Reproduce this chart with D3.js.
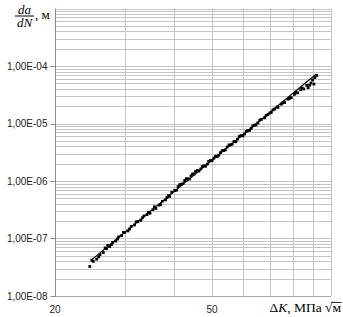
<!DOCTYPE html>
<head>
  <meta charset="utf-8">
  <script src="https://cdn.jsdelivr.net/npm/d3@7"></script>
  <style>
    body { margin: 0; background: #fff; }
    svg { display: block; }
    .tick-label { font-family: 'Liberation Sans', Arial, sans-serif; font-size: 10px; fill: #222; }
    .title { font-family: 'Liberation Serif', 'Times New Roman', serif; fill: #000; }
  </style>
</head>
<body>
<div id=chart></div>
<script>
// stress intensity range, MPa*sqrt(m)
const delta_k = [24.5, 25.0, 25.5, 26.0, 26.5, 27.0, 27.2, 27.5, 28.0, 28.5,
  29.0, 29.5, 30.0, 30.6, 31.2, 31.8, 32.4, 33.0, 33.3, 33.6,
  34.2, 34.8, 35.4, 36.0, 36.7, 37.4, 38.1, 38.8, 39.0, 39.5,
  40.2, 41.0, 41.8, 42.6, 43.4, 44.2, 44.6, 45.0, 45.9, 46.8,
  47.7, 48.6, 49.5, 50.5, 51.5, 52.5, 53.5, 54.6, 55.7, 56.8,
  57.4, 58.0, 59.2, 60.4, 61.6, 62.8, 63.4, 64.0, 65.3, 66.6,
  67.9, 69.2, 70.6, 71.3, 72.0, 73.4, 74.8, 76.3, 77.8, 79.3,
  80.8, 81.5, 82.3, 83.8, 85.3, 86.8, 87.5, 88.3, 89.8, 90.5,
  91.0, 92.0,
  24.8, 25.8, 26.8, 27.8, 28.8, 29.8, 30.9, 32.1, 34.5, 35.7,
  37.0, 38.4, 40.6, 41.4, 42.2, 43.0, 43.8, 45.4, 46.3, 47.2,
  48.1, 49.0, 50.0, 51.0, 52.0, 53.0, 54.0, 55.2, 56.2, 58.6,
  59.8, 61.0, 62.2, 64.6, 66.0, 68.5, 70.0, 73.0, 75.5, 78.5,
  84.5, 89.0]
// crack growth rate, m/cycle
const da_dn = [3.26e-8, 4.00e-8, 4.38e-8, 5.24e-8, 5.70e-8, 6.65e-8, 7.60e-8, 7.21e-8, 8.56e-8, 9.03e-8,
  1.069e-7, 1.124e-7, 1.266e-7, 1.353e-7, 1.620e-7, 1.722e-7, 1.960e-7, 2.077e-7, 2.29e-7, 2.465e-7,
  2.604e-7, 2.747e-7, 3.168e-7, 3.327e-7, 3.80e-7, 4.43e-7, 4.70e-7, 5.58e-7, 5.37e-7, 6.33e-7,
  6.83e-7, 8.00e-7, 8.73e-7, 1.017e-6, 1.080e-6, 1.225e-6, 1.32e-6, 1.326e-6, 1.519e-6, 1.619e-6,
  1.846e-6, 1.961e-6, 2.279e-6, 2.495e-6, 2.665e-6, 3.113e-6, 3.387e-6, 3.889e-6, 4.258e-6, 4.863e-6,
  4.82e-6, 5.354e-6, 6.154e-6, 6.58e-6, 7.54e-6, 8.22e-6, 9.09e-6, 9.37e-6, 1.026e-5, 1.175e-5,
  1.252e-5, 1.426e-5, 1.562e-5, 1.73e-5, 1.786e-5, 1.904e-5, 2.169e-5, 2.318e-5, 2.651e-5, 2.822e-5,
  3.21e-5, 3.53e-5, 3.40e-5, 3.86e-5, 3.98e-5, 4.60e-5, 4.20e-5, 4.63e-5, 5.72e-5, 4.85e-5,
  6.30e-5, 6.87e-5,
  4.20e-8, 4.79e-8, 6.83e-8, 7.84e-8, 9.81e-8, 1.276e-7, 1.465e-7, 1.947e-7, 2.866e-7, 3.563e-7,
  3.889e-7, 5.14e-7, 6.90e-7, 8.65e-7, 9.00e-7, 1.098e-6, 1.087e-6, 1.462e-6, 1.490e-6, 1.779e-6,
  1.806e-6, 2.202e-6, 2.253e-6, 2.701e-6, 2.813e-6, 3.361e-6, 3.487e-6, 4.23e-6, 4.37e-6, 5.94e-6,
  6.08e-6, 7.29e-6, 7.61e-6, 9.43e-6, 1.141e-5, 1.378e-5, 1.522e-5, 1.932e-5, 2.285e-5, 2.726e-5,
  4.14e-5, 5.07e-5]
// fitted Paris line end points
const fit_k = [24.7, 91.6]
const fit_da_dn = [4.2e-8, 7.2e-5]

const x_tick_values = [20, 50]
const y_tick_values = [1e-8, 1e-7, 1e-6, 1e-5, 1e-4]
const y_tick_labels = ['1,00E-08', '1,00E-07', '1,00E-06', '1,00E-05', '1,00E-04']

const width = 343, height = 317
const margin = { top: 8.5, right: 12, bottom: 21, left: 55 }

const x = d3.scaleLog().domain([20, 100]).range([margin.left, width - margin.right])
const y = d3.scaleLog().domain([1e-8, 1e-3]).range([height - margin.bottom, margin.top])
const crisp = v => Math.round(v) + 0.5

const svg = d3.select('#chart').append('svg')
  .attr('width', width)
  .attr('height', height)
  .attr('viewBox', [0, 0, width, height])

svg.append('rect').attr('width', width).attr('height', height).attr('fill', '#fff')

// grid
svg.append('g').selectAll('line').data(y.ticks()).join('line')
  .attr('x1', margin.left).attr('x2', width - margin.right)
  .attr('y1', d => crisp(y(d))).attr('y2', d => crisp(y(d)))
  .attr('stroke', '#c4c4c4')
svg.append('g').selectAll('line').data(x.ticks()).join('line')
  .attr('y1', margin.top).attr('y2', height - margin.bottom)
  .attr('x1', d => crisp(x(d))).attr('x2', d => crisp(x(d)))
  .attr('stroke', '#c4c4c4')

// axes
const y0 = crisp(y(1e-8)), x0 = crisp(x(20))
svg.append('line').attr('x1', x0).attr('x2', x0).attr('y1', margin.top).attr('y2', y0).attr('stroke', '#8c8c8c')
svg.append('line').attr('x1', x0).attr('x2', width - margin.right).attr('y1', y0).attr('y2', y0).attr('stroke', '#a8a8a8')

svg.append('g').selectAll('line').data(y_tick_values).join('line')
  .attr('x1', x0 - 5).attr('x2', x0)
  .attr('y1', d => crisp(y(d))).attr('y2', d => crisp(y(d)))
  .attr('stroke', '#8c8c8c')

svg.append('g').selectAll('text').data(y_tick_values).join('text')
  .attr('class', 'tick-label')
  .attr('x', x0 - 8)
  .attr('y', d => y(d))
  .attr('dy', '0.35em')
  .attr('text-anchor', 'end')
  .text((d, i) => y_tick_labels[i])

svg.append('g').selectAll('text').data(x_tick_values).join('text')
  .attr('class', 'tick-label')
  .attr('x', d => x(d))
  .attr('y', height - 4)
  .attr('text-anchor', 'middle')
  .text(d => d)

// fit line
svg.append('path')
  .datum(d3.zip(fit_k, fit_da_dn))
  .attr('d', d3.line().x(d => x(d[0])).y(d => y(d[1])))
  .attr('fill', 'none')
  .attr('stroke', '#000')
  .attr('stroke-width', 1.1)

// measured points
svg.append('g').selectAll('rect').data(d3.zip(delta_k, da_dn)).join('rect')
  .attr('x', d => x(d[0]) - 1.4)
  .attr('y', d => y(d[1]) - 1.4)
  .attr('width', 2.8)
  .attr('height', 2.8)
  .attr('fill', '#000')

// y title: da/dN, м
const y_title = svg.append('g').attr('class', 'title').attr('font-size', 13)
y_title.append('text').attr('x', 24.5).attr('y', 13.5).attr('text-anchor', 'middle').attr('font-style', 'italic').text('da')
y_title.append('line').attr('x1', 15).attr('x2', 34).attr('y1', 16).attr('y2', 16).attr('stroke', '#000')
y_title.append('text').attr('x', 24.5).attr('y', 27).attr('text-anchor', 'middle').attr('font-style', 'italic').text('dN')
y_title.append('text').attr('x', 35).attr('y', 18.5).text(', м')

// x title: ΔK, МПа √м
const x_title = svg.append('g').attr('class', 'title').attr('font-size', 13.5)
const m_text = x_title.append('text').attr('x', width - 2).attr('y', height - 5).attr('text-anchor', 'end').text('м')
const m_box = m_text.node().getBBox()
const rest = x_title.append('text').attr('x', m_box.x).attr('y', height - 5).attr('text-anchor', 'end')
rest.append('tspan').text('Δ')
rest.append('tspan').attr('font-style', 'italic').text('K')
rest.append('tspan').text(', МПа √')
x_title.append('line')
  .attr('x1', m_box.x - 1).attr('x2', m_box.x + m_box.width)
  .attr('y1', m_box.y + 2.5).attr('y2', m_box.y + 2.5)
  .attr('stroke', '#000').attr('stroke-width', 0.8)
</script>
</body>
